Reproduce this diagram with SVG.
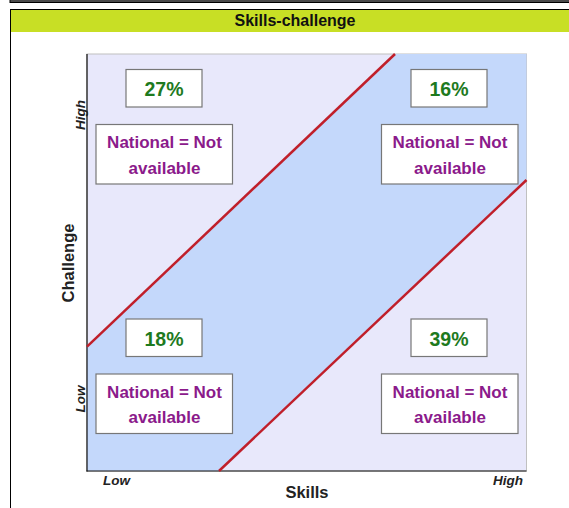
<svg xmlns="http://www.w3.org/2000/svg" width="569" height="508" viewBox="0 0 569 508">
<style>
text{font-family:"Liberation Sans",Arial,sans-serif;font-weight:bold}
.box{fill:#fff;stroke:#777;stroke-width:1.2}
.pct{fill:#1e7a1e;font-size:19.5px;text-anchor:middle}
.nat{fill:#8b1a8b;font-size:17px;text-anchor:middle}
.red{stroke:#c01f2a;stroke-width:2.5;fill:none}
.ax{fill:#222;font-size:16.5px;text-anchor:middle}
.tick{fill:#222;font-size:13.5px;font-style:italic}
</style>
<rect width="569" height="508" fill="#fff"/>
<rect x="10" y="-2" width="570" height="4.5" fill="#4a4a4a" stroke="#000" stroke-width="1"/>
<g id="panel">
<rect x="10.5" y="9.5" width="570" height="510" fill="#fff" stroke="#000" stroke-width="1"/>
<rect x="11" y="10" width="560" height="22" fill="#c8df25"/>
<text x="295" y="26" font-size="16" fill="#111" text-anchor="middle">Skills-challenge</text>
</g>
<g id="plot">
<rect x="87" y="54" width="439.5" height="417" fill="#e8e8fb" stroke="#c0c0c0" stroke-width="1"/>
<polygon points="87,346.7 395,54 526.5,54 526.5,180 219,471 87,471" fill="#c4d8fb"/>
<line x1="87" y1="54" x2="87" y2="471.5" stroke="#111" stroke-width="1.2"/>
<line x1="86.5" y1="471" x2="526.5" y2="471" stroke="#111" stroke-width="1.2"/>
</g>
<g id="connectors">
<line class="red" x1="87" y1="346.7" x2="395" y2="54"/>
<line class="red" x1="219" y1="471" x2="526.5" y2="180"/>
</g>
<g id="node-tl">
<rect class="box" x="126" y="69.5" width="76" height="37.5"/>
<text class="pct" x="164" y="96">27%</text>
<rect class="box" x="96" y="124.5" width="136.5" height="59.5"/>
<text class="nat" x="164.5" y="148">National = Not</text>
<text class="nat" x="164.5" y="173.5">available</text>
</g>
<g id="node-tr">
<rect class="box" x="411" y="69.5" width="76" height="37.5"/>
<text class="pct" x="449" y="96">16%</text>
<rect class="box" x="381.5" y="124.5" width="136.5" height="59.5"/>
<text class="nat" x="450" y="148">National = Not</text>
<text class="nat" x="450" y="173.5">available</text>
</g>
<g id="node-bl">
<rect class="box" x="126" y="319" width="76" height="37.5"/>
<text class="pct" x="164" y="345.5">18%</text>
<rect class="box" x="96" y="374" width="136.5" height="59.5"/>
<text class="nat" x="164.5" y="397.5">National = Not</text>
<text class="nat" x="164.5" y="423">available</text>
</g>
<g id="node-br">
<rect class="box" x="411" y="319" width="76" height="37.5"/>
<text class="pct" x="449" y="345.5">39%</text>
<rect class="box" x="381.5" y="374" width="136.5" height="59.5"/>
<text class="nat" x="450" y="397.5">National = Not</text>
<text class="nat" x="450" y="423">available</text>
</g>
<g id="axes">
<text class="ax" x="307" y="498">Skills</text>
<text class="ax" transform="translate(74,263) rotate(-90)">Challenge</text>
<text class="tick" x="103" y="485">Low</text>
<text class="tick" x="523" y="485" text-anchor="end">High</text>
<text class="tick" transform="translate(85,115) rotate(-90)" text-anchor="middle">High</text>
<text class="tick" transform="translate(85,399) rotate(-90)" text-anchor="middle">Low</text>
</g>
</svg>
